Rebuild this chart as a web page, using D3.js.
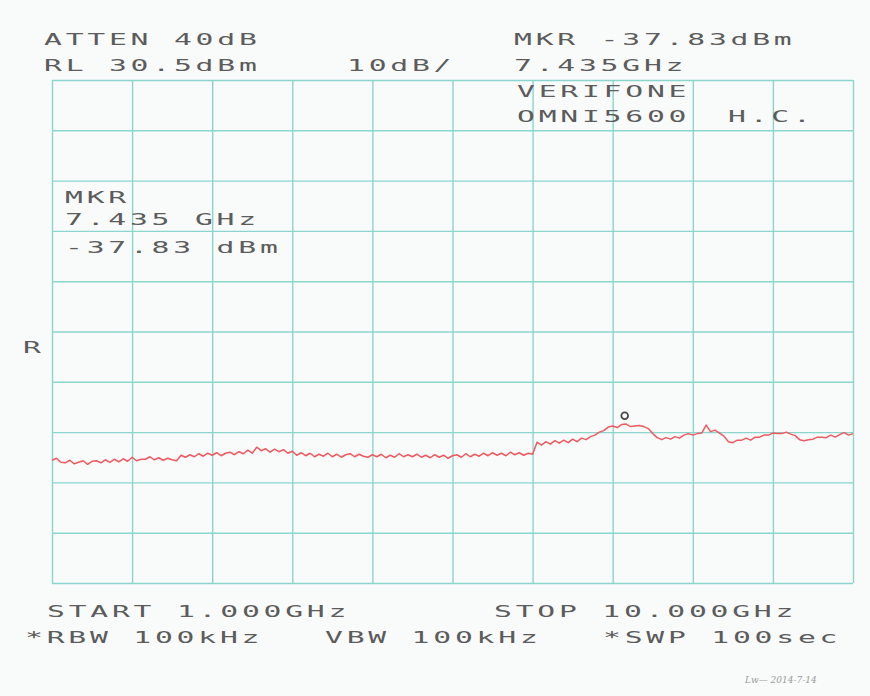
<!DOCTYPE html>
<html><head><meta charset="utf-8">
<script src="https://cdn.jsdelivr.net/npm/d3@7"></script>
<style>html,body{margin:0;padding:0;background:#f8fbfb;} svg{display:block}</style>
</head><body><svg id="c" width="870" height="696"></svg>
<script>
// ---- data ----
const startGHz = 1.0, stopGHz = 10.0, stepGHz = 0.05;
const refLevel = 30.5, dbPerDiv = 10, divisions = 10;
const xTickValues = [1.0, 1.9, 2.8, 3.7, 4.6, 5.5, 6.4, 7.3, 8.2, 9.1, 10.0];
const yTickValues = [30.5, 20.5, 10.5, 0.5, -9.5, -19.5, -29.5, -39.5, -49.5, -59.5, -69.5];
const traceDbm = [
  -45.1,-44.7,-45.5,-45.6,-45.1,-45.8,-45.5,-45.2,-45.9,-45.3,-45.2,
  -45.6,-45.0,-45.5,-44.9,-45.4,-44.8,-45.3,-44.5,-45.2,-44.9,
  -44.9,-44.4,-45.0,-44.6,-45.1,-44.7,-45.0,-45.2,-44.1,-44.5,
  -44.0,-44.4,-43.8,-44.3,-43.7,-44.1,-43.6,-44.2,-43.7,-43.5,
  -44.0,-43.4,-43.8,-43.1,-43.7,-42.5,-43.2,-42.8,-43.5,-42.9,
  -43.4,-43.0,-43.7,-43.3,-44.1,-43.6,-44.2,-43.7,-44.4,-43.9,
  -44.3,-43.7,-44.4,-43.9,-44.5,-44.0,-43.8,-44.4,-43.9,-44.3,
  -44.5,-44.0,-44.4,-43.9,-44.6,-44.1,-44.5,-43.8,-44.4,-44.0,
  -44.4,-43.9,-44.5,-44.1,-44.6,-44.0,-44.5,-44.1,-44.7,-44.2,
  -44.0,-44.5,-43.8,-44.4,-43.9,-44.3,-43.7,-44.2,-43.6,-44.1,
  -43.7,-44.2,-43.5,-44.0,-43.6,-44.1,-43.7,-43.9,
  -41.5,-42.1,-41.4,-41.9,-41.2,-41.7,-41.1,-41.6,-40.9,-41.4,-40.7,-41.0,
  -40.4,-40.1,-39.5,-39.2,-38.5,-38.3,-38.6,-38.0,-37.9,-38.4,
  -38.3,-38.2,-38.4,-38.8,-39.8,-40.6,-41.0,-40.6,-40.9,-40.4,
  -40.7,-40.1,-39.8,-40.1,-39.8,-39.7,-38.1,-39.4,-39.1,-39.7,
  -40.3,-41.4,-41.6,-41.1,-41.1,-40.7,-41.1,-40.5,-40.5,-40.1,
  -40.1,-39.7,-39.8,-39.8,-39.5,-39.9,-40.2,-41.0,-41.2,-41.0,
  -40.9,-40.5,-40.5,-40.6,-40.1,-40.5,-40.0,-39.6,-40.1,-39.8
];
const markerFreq = 7.435, markerDbm = -37.83;
const headerLeft = ["ATTEN 40dB", "RL 30.5dBm"];
const scaleLabel = "10dB/";
const headerRight = ["MKR -37.83dBm", "7.435GHz"];
const titleLines = ["VERIFONE", "OMNI5600", "H.C."];
const markerLines = ["MKR", "7.435 GHz", "-37.83 dBm"];
const sideLabel = "R";
const footerLine1 = ["START 1.000GHz", "STOP 10.000GHz"];
const footerLine2 = ["*RBW 100kHz", "VBW 100kHz", "*SWP 100sec"];
const signature = "Lw\u2014 2014-7-14";

// ---- layout ----
const L = 52, R = 853, T = 80, B = 583;
const svg = d3.select('#c');
svg.append('rect').attr('width', 870).attr('height', 696).attr('fill', '#f9fbfb');

const x = d3.scaleLinear().domain([startGHz, stopGHz]).range([L, R]);
const y = d3.scaleLinear().domain([refLevel - dbPerDiv * divisions, refLevel]).range([B, T]);

const gridColor = '#8ad6cd';
const gx = svg.append('g').attr('transform', `translate(0,${B})`)
  .call(d3.axisBottom(x).tickValues(xTickValues).tickSize(-(B - T)).tickFormat(''));
const gy = svg.append('g').attr('transform', `translate(${L},0)`)
  .call(d3.axisLeft(y).tickValues(yTickValues).tickSize(-(R - L)).tickFormat(''));
[gx, gy].forEach(g => {
  g.select('.domain').remove();
  g.selectAll('line').attr('stroke', gridColor).attr('stroke-width', 1.4);
});

// trace
const pts = traceDbm.map((v, i) => [startGHz + i * stepGHz, v]);
svg.append('path').datum(pts)
  .attr('fill', 'none').attr('stroke', '#ec5a60').attr('stroke-width', 1.5)
  .attr('stroke-linejoin', 'round')
  .attr('d', d3.line().x(d => x(d[0])).y(d => y(d[1])));

// marker symbol
svg.append('path')
  .attr('d', d3.symbol().type(d3.symbolCircle).size(36))
  .attr('transform', `translate(${x(markerFreq)},${y(markerDbm) - 8})`)
  .attr('fill', 'none').attr('stroke', '#4a4a4a').attr('stroke-width', 1.8);

// text helper (wide plotter-like lettering)
const tg = svg.append('g').attr('fill', '#5c5c5c')
  .style('font-family', '"DejaVu Sans Mono", monospace').style('font-size', '16.5px');
function label(str, px, py) {
  tg.append('text').attr('transform', `translate(${px},${py}) scale(1.8,1)`)
    .attr('letter-spacing', 2.1).text(str);
}
label(headerLeft[0], 44, 45);
label(headerLeft[1], 44, 71);
label(scaleLabel, 347, 71);
label(headerRight[0], 514, 45);
label(headerRight[1], 514, 71);
label(titleLines[0], 517, 97);
label(titleLines[1], 517, 122);
label(titleLines[2], 728, 122);
label(markerLines[0], 65, 203);
label(markerLines[1], 65, 225);
label(markerLines[2], 65, 253);
label(sideLabel, 23, 353);
label(footerLine1[0], 47, 617);
label(footerLine1[1], 494, 617);
label(footerLine2[0], 25, 643);
label(footerLine2[1], 325, 643);
label(footerLine2[2], 603, 643);

svg.append('text').attr('x', 745).attr('y', 683)
  .attr('fill', '#9a9a9a').style('font-family', '"DejaVu Serif", serif')
  .style('font-style', 'italic').style('font-size', '9px').text(signature);
</script></body></html>
